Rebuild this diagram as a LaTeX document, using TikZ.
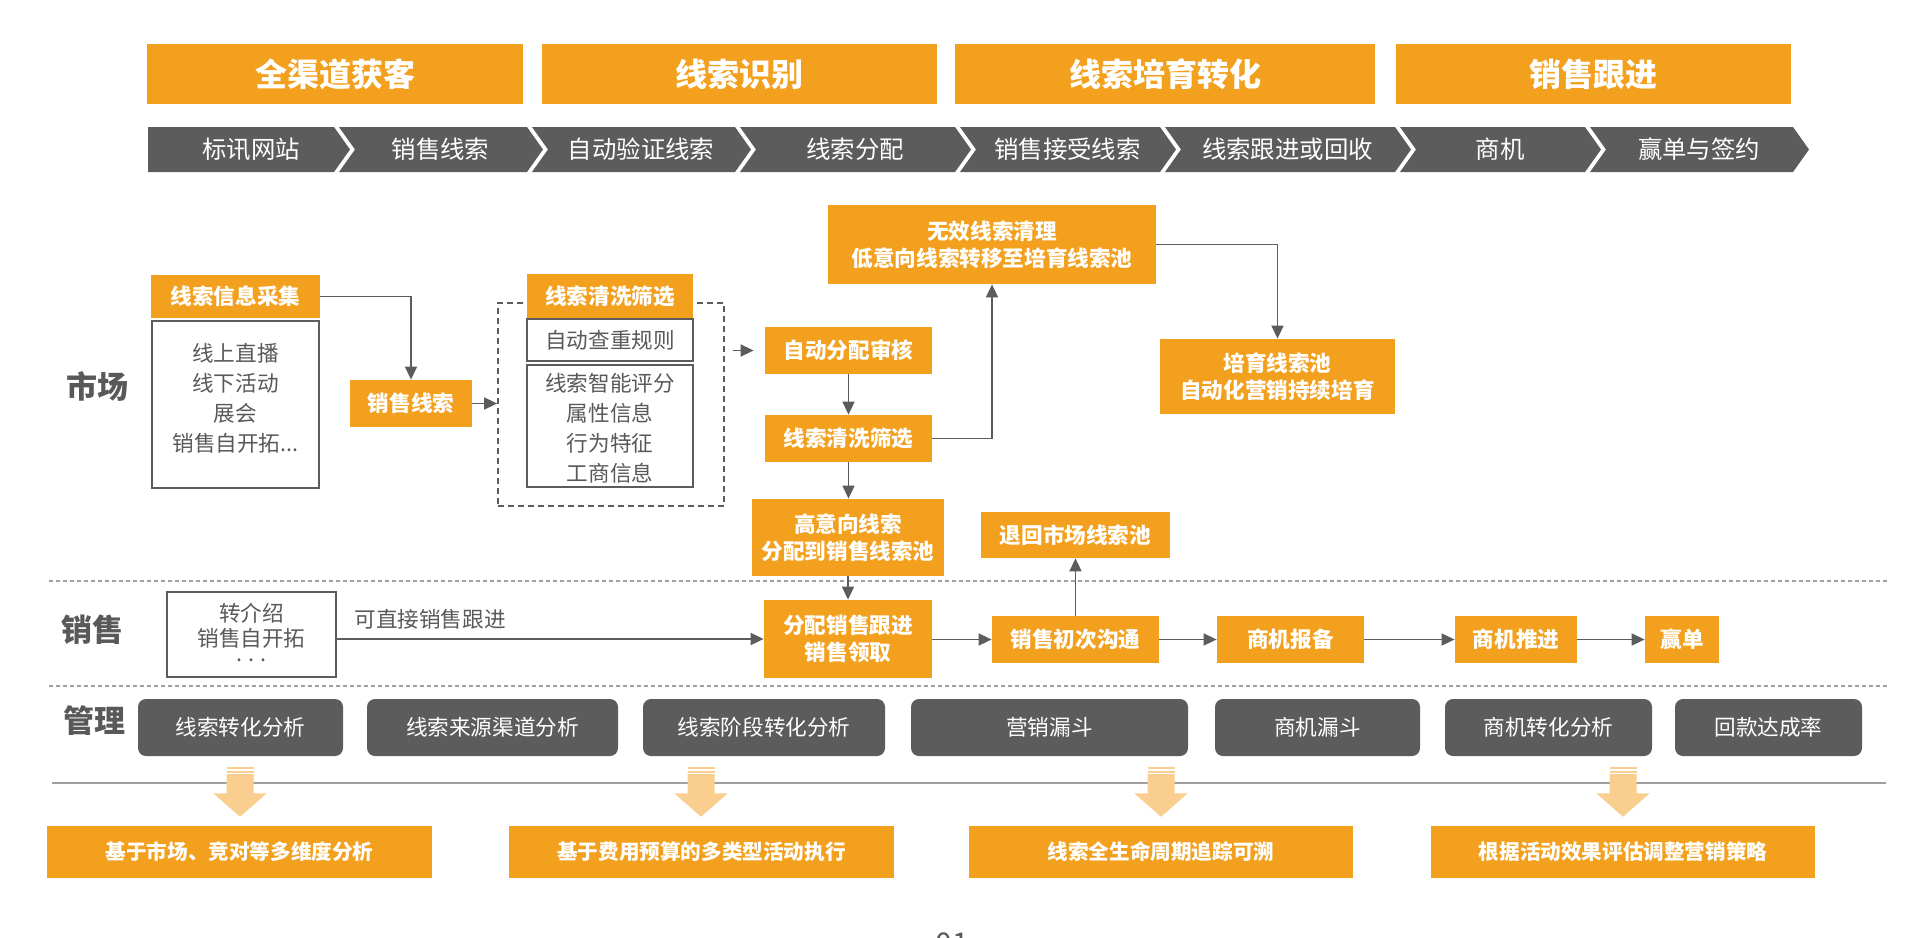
\documentclass[tikz,border=0pt]{standalone}
\usepackage{fontspec}
\setmainfont{Noto Sans CJK SC}
\usetikzlibrary{arrows.meta}
\definecolor{org}{HTML}{F3A01F}
\definecolor{dgray}{HTML}{5C5C5C}
\definecolor{tgray}{HTML}{595959}
\definecolor{lorg}{HTML}{F9CE8E}
\definecolor{lgray}{HTML}{A0A0A0}
\begin{document}
\begin{tikzpicture}[x=0.5pt,y=-0.5pt,
  wh/.style 2 args={minimum width=#1*0.5pt, minimum height=#2*0.5pt},
  obox/.style={fill=org, text=white, font=\bfseries\fontsize{10.8}{13.5}\selectfont, align=center, inner sep=0pt},
  hdr/.style={fill=org, text=white, font=\bfseries\fontsize{16}{19}\selectfont, inner sep=0pt},
  chtext/.style={text=white, font=\fontsize{12.2}{14}\selectfont, inner sep=0pt},
  wbox/.style={draw=dgray, line width=1.2pt, fill=white, inner sep=0pt},
  gtext/.style={text=tgray, font=\fontsize{10.8}{15}\selectfont, align=center, inner sep=0pt},
  mbox/.style={fill=dgray, rounded corners=4pt, text=white, font=\fontsize{10.8}{13}\selectfont, inner sep=0pt},
  bbox/.style={fill=org, text=white, font=\bfseries\fontsize{10.3}{12}\selectfont, inner sep=0pt},
  rowlab/.style={text=tgray, font=\bfseries\fontsize{15.5}{18}\selectfont, inner sep=0pt},
  arr/.style={draw=dgray, line width=0.8pt, -{Triangle[length=6.5pt,width=6pt]}},
  sepline/.style={draw=lgray, line width=0.7pt, dash pattern=on 2pt off 1.5pt},
  lightarrow/.style={fill=lorg}
]
\fill[white] (0,0) rectangle (1920,937);
\useasboundingbox (0,0) rectangle (1920,937);

% headers
\node[hdr, wh={376}{60}] (h1) at (335,74) {全渠道获客};
\node[hdr, wh={395}{60}] (h2) at (739.5,74) {线索识别};
\node[hdr, wh={420}{60}] (h3) at (1165,74) {线索培育转化};
\node[hdr, wh={395}{60}] (h4) at (1593.5,74) {销售跟进};

% chevrons
\fill[dgray] (148,127) -- (334,127) -- (350,149.5) -- (334,172) -- (148,172) -- cycle;
\node[chtext] (c1) at (251,149.5) {标讯网站};
\foreach \L/\R/\t/\n in {334/527/销售线索/2, 527/735/自动验证线索/3, 735/955/线索分配/4, 955/1160/销售接受线索/5, 1160/1395/线索跟进或回收/6, 1395/1585/商机/7, 1585/1793/赢单与签约/8}{
  \fill[dgray] ({\L+5},127) -- (\R,127) -- ({\R+16},149.5) -- (\R,172) -- ({\L+5},172) -- ({\L+21},149.5) -- cycle;
  \node[chtext] (c\n) at ({(\L+\R)/2+10},149.5) {\t};
}

% row labels
\node[rowlab] (lm) at (97,386) {市场};
\node[rowlab] (ls) at (92,630) {销售};
\node[rowlab] (lg) at (94,721) {管理};

% separators
\coordinate (s1a) at (49,581); \coordinate (s1b) at (1888,581);
\coordinate (s2a) at (49,686); \coordinate (s2b) at (1888,686);
\draw[sepline] (s1a) -- (s1b);
\draw[sepline] (s2a) -- (s2b);

% market
\node[obox, wh={169}{43}] (n1h) at (235.5,296.5) {线索信息采集};
\node[wbox, wh={167}{167}] (n1b) at (235.5,404.5) {};
\node[gtext] (n1t) at (235.5,398) {线上直播\\线下活动\\展会\\销售自开拓...};
\node[obox, wh={122}{47}] (n2) at (411,403.5) {销售线索};
\draw[arr] (n1h.east) -| (n2.north);

\node[draw=dgray, line width=0.9pt, dash pattern=on 3pt off 2pt, wh={226}{203}, inner sep=0pt] (dbox) at (611,404.5) {};
\node[obox, wh={166}{44}] (n3h) at (610,296) {线索清洗筛选};
\node[wbox, wh={166}{42}, gtext] (n3a) at (610,340) {自动查重规则};
\node[wbox, wh={166}{122}] (n3b) at (610,426) {};
\node[gtext] (n3t) at (610,428) {线索智能评分\\属性信息\\行为特征\\工商信息};
\draw[arr] (n2.east) -- (dbox.west |- n2.east);

\node[obox, wh={167}{47}] (n4) at (848.5,350.5) {自动分配审核};
\node[obox, wh={167}{47}] (n5) at (848.5,438.5) {线索清洗筛选};
\node[obox, wh={192}{77}] (n6) at (848,537.5) {高意向线索\\分配到销售线索池};
\node[obox, wh={328}{79}] (n7) at (992,244.5) {无效线索清理\\低意向线索转移至培育线索池};
\node[obox, wh={235}{75}] (n8) at (1277.5,376.5) {培育线索池\\自动化营销持续培育};
\node[obox, wh={189}{46}] (n9) at (1075.5,535) {退回市场线索池};

\draw[arr] ([xshift=4pt]dbox.east |- n4.west) -- ([xshift=-5.5pt]n4.west);
\draw[arr] (n4.south) -- (n5.north);
\draw[arr] (n5.south) -- (n5.south |- n6.north);
\draw[arr] (n5.east) -| (n7.south);
\draw[arr] (n7.east) -| (n8.north);

% sales
\node[wbox, wh={169}{85}] (s1) at (251.5,634.5) {};
\node[gtext] (s1t1) at (251.5,613) {转介绍};
\node[gtext] (s1t2) at (251.5,638) {销售自开拓};
\node[gtext] (s1t3) at (251.5,660) {. . .};
\node[text=tgray, font=\fontsize{10.8}{13}\selectfont, anchor=west, inner sep=0pt] (lbl) at (354,619) {可直接销售跟进};
\node[obox, wh={168}{78}] (n11) at (848,639) {分配销售跟进\\销售领取};
\node[obox, wh={167}{47}] (n10) at (1075.5,639.5) {销售初次沟通};
\node[obox, wh={147}{47}] (n12) at (1290.5,639.5) {商机报备};
\node[obox, wh={122}{47}] (n13) at (1516,639.5) {商机推进};
\node[obox, wh={74}{47}] (n14) at (1682,639.5) {赢单};

\draw[arr] (s1.east |- n11.west) -- (n11.west);
\draw[arr] (n6.south) -- (n6.south |- n11.north);
\draw[arr] (n11.east |- n10.west) -- (n10.west);
\draw[arr] (n10) -- (n12);
\draw[arr] (n12) -- (n13);
\draw[arr] (n13) -- (n14);
\draw[arr] (n10.north) -- (n9.south);

% management
\node[mbox, wh={205}{57}] (m1) at (240.5,727.5) {线索转化分析};
\node[mbox, wh={251}{57}] (m2) at (492.5,727.5) {线索来源渠道分析};
\node[mbox, wh={242}{57}] (m3) at (764,727.5) {线索阶段转化分析};
\node[mbox, wh={277}{57}] (m4) at (1049.5,727.5) {营销漏斗};
\node[mbox, wh={205}{57}] (m5) at (1317.5,727.5) {商机漏斗};
\node[mbox, wh={207}{57}] (m6) at (1548.5,727.5) {商机转化分析};
\node[mbox, wh={187}{57}] (m7) at (1768.5,727.5) {回款达成率};

% base line
\coordinate (bla) at (52,783); \coordinate (blb) at (1886,783);
\draw[lgray, line width=0.8pt] (bla) -- (blb);

% light arrows
\foreach \x in {240,701,1161,1623}{
  \fill[lightarrow] ({\x-13.5},766.7) rectangle ({\x+13.5},769);
  \fill[lightarrow] ({\x-13.5},770.7) rectangle ({\x+13.5},772.7);
  \fill[lightarrow] ({\x-13.5},774.2) -- ({\x+13.5},774.2) -- ({\x+13.5},793.3) -- ({\x+26.7},793.3) -- (\x,816.7) -- ({\x-26.7},793.3) -- ({\x-13.5},793.3) -- cycle;
}

% bottom boxes
\node[bbox, wh={385}{52}] (b1) at (239.5,852) {基于市场、竞对等多维度分析};
\node[bbox, wh={385}{52}] (b2) at (701.5,852) {基于费用预算的多类型活动执行};
\node[bbox, wh={384}{52}] (b3) at (1161,852) {线索全生命周期追踪可溯};
\node[bbox, wh={384}{52}] (b4) at (1623,852) {根据活动效果评估调整营销策略};

% page number
\node[text=tgray, font=\fontsize{15}{18}\selectfont, anchor=north, inner sep=0pt] (pg) at (952,932) {01};
\end{tikzpicture}
\end{document}
